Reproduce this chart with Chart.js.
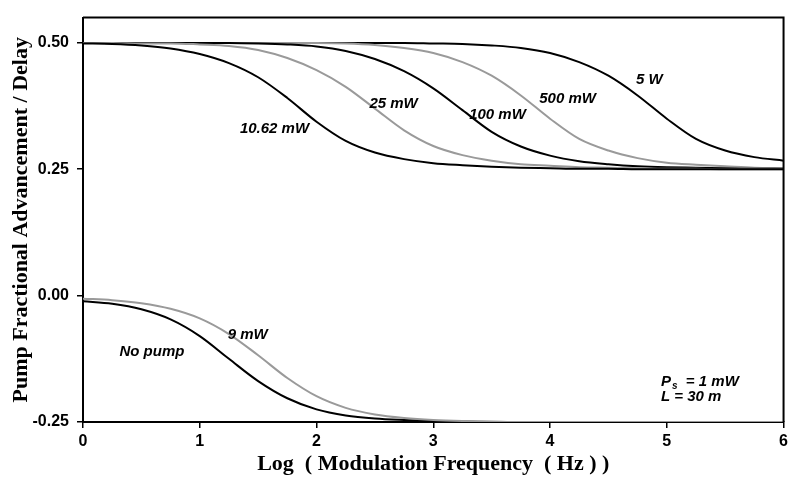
<!DOCTYPE html>
<html>
<head>
<meta charset="utf-8">
<script src="https://cdn.jsdelivr.net/npm/chart.js@4/dist/chart.umd.min.js"></script>
<style>
  html, body { margin: 0; padding: 0; background: #fff; }
  #wrap { width: 792px; height: 482px; }
</style>
</head>
<body>
<div id="wrap"><canvas id="pumpChart"></canvas></div>
<script>
// Log10 of modulation frequency (Hz)
const logFreq = [0, 0.25, 0.5, 0.75, 1, 1.25, 1.5, 1.75, 2, 2.25, 2.5, 2.75, 3,
                 3.25, 3.5, 3.75, 4, 4.25, 4.5, 4.75, 5, 5.25, 5.5, 5.75, 6];

// Pump fractional advancement / delay
const pump10mW = [0.499, 0.498, 0.495, 0.489, 0.478, 0.460, 0.432, 0.391, 0.344, 0.306, 0.283, 0.270, 0.262,
                  0.258, 0.255, 0.253, 0.252, 0.251, 0.251, 0.250, 0.250, 0.250, 0.250, 0.250, 0.250];
const pump25mW = [0.500, 0.500, 0.499, 0.499, 0.497, 0.494, 0.486, 0.470, 0.446, 0.413, 0.370, 0.327, 0.296,
                  0.278, 0.267, 0.260, 0.257, 0.254, 0.253, 0.252, 0.251, 0.251, 0.250, 0.250, 0.250];
const pump100mW = [0.500, 0.500, 0.500, 0.500, 0.500, 0.500, 0.499, 0.497, 0.493, 0.484, 0.468, 0.444, 0.410,
                   0.367, 0.324, 0.295, 0.277, 0.266, 0.260, 0.256, 0.254, 0.253, 0.252, 0.251, 0.251];
const pump500mW = [0.500, 0.500, 0.500, 0.500, 0.500, 0.500, 0.500, 0.500, 0.500, 0.499, 0.496, 0.490, 0.480,
                   0.462, 0.435, 0.396, 0.350, 0.310, 0.287, 0.272, 0.263, 0.259, 0.256, 0.253, 0.252];
const pump5W = [0.500, 0.500, 0.500, 0.500, 0.500, 0.500, 0.500, 0.500, 0.500, 0.500, 0.500, 0.500, 0.499,
                0.498, 0.495, 0.490, 0.480, 0.462, 0.435, 0.396, 0.350, 0.310, 0.287, 0.274, 0.267];
const noPump = [-0.011, -0.016, -0.027, -0.047, -0.080, -0.125, -0.169, -0.203, -0.225, -0.237, -0.243, -0.246, -0.248,
                -0.249, -0.250, -0.250, -0.250, -0.250, -0.250, -0.250, -0.250, -0.250, -0.250, -0.250, -0.250];
const pump9mW = [-0.006, -0.009, -0.015, -0.026, -0.045, -0.076, -0.118, -0.163, -0.199, -0.222, -0.235, -0.242, -0.246,
                 -0.248, -0.249, -0.250, -0.250, -0.250, -0.250, -0.250, -0.250, -0.250, -0.250, -0.250, -0.250];

const yTicks = [-0.25, 0, 0.25, 0.5];
const xTicks = [0, 1, 2, 3, 4, 5, 6];

// Curve labels, placed in data units
const curveLabels = [
  { text: '10.62 mW', x: 1.64, y: 0.330 },
  { text: '25 mW', x: 2.66, y: 0.379 },
  { text: '100 mW', x: 3.55, y: 0.357 },
  { text: '500 mW', x: 4.15, y: 0.389 },
  { text: '5 W', x: 4.85, y: 0.426 },
  { text: '9 mW', x: 1.41, y: -0.077 },
  { text: 'No pump', x: 0.59, y: -0.111 }
];

const BLACK = '#000000';
const GRAY = '#9a9a9a';

function toPoints(vals) {
  return logFreq.map((x, i) => ({ x: x, y: vals[i] }));
}

function curve(label, vals, color) {
  return {
    label: label,
    data: toPoints(vals),
    borderColor: color,
    borderWidth: 2,
    pointRadius: 0,
    fill: false,
    cubicInterpolationMode: 'monotone'
  };
}

// Draws the top/right frame and the text annotations
const annotatePlugin = {
  id: 'annotate',
  afterDatasetsDraw(chart) {
    const ctx = chart.ctx;
    const a = chart.chartArea;
    const xs = chart.scales.x;
    const ys = chart.scales.y;

    ctx.save();
    ctx.strokeStyle = BLACK;
    ctx.lineWidth = 2;
    ctx.beginPath();
    ctx.moveTo(a.left, a.top);
    ctx.lineTo(a.right, a.top);
    ctx.lineTo(a.right, a.bottom);
    ctx.stroke();

    ctx.fillStyle = BLACK;
    ctx.font = 'italic bold 15px "Liberation Sans", Arial, sans-serif';
    ctx.textAlign = 'center';
    ctx.textBaseline = 'middle';
    curveLabels.forEach(l => {
      ctx.fillText(l.text, xs.getPixelForValue(l.x), ys.getPixelForValue(l.y));
    });

    // P_s = 1 mW and L = 30 m
    ctx.textAlign = 'left';
    let px = xs.getPixelForValue(4.95);
    let py = ys.getPixelForValue(-0.170);
    ctx.fillText('P', px, py);
    px += ctx.measureText('P').width;
    ctx.font = 'italic bold 10px "Liberation Sans", Arial, sans-serif';
    ctx.fillText('s', px + 1, py + 5);
    px += ctx.measureText('s').width + 1;
    ctx.font = 'italic bold 15px "Liberation Sans", Arial, sans-serif';
    ctx.fillText('  = 1 mW', px, py);
    ctx.fillText('L = 30 m', xs.getPixelForValue(4.95), ys.getPixelForValue(-0.200));
    ctx.restore();
  }
};

const ctx = document.getElementById('pumpChart').getContext('2d');
const pumpChart = new Chart(ctx, {
  type: 'line',
  data: {
    datasets: [
      curve('10.62 mW', pump10mW, BLACK),
      curve('25 mW', pump25mW, GRAY),
      curve('100 mW', pump100mW, BLACK),
      curve('500 mW', pump500mW, GRAY),
      curve('5 W', pump5W, BLACK),
      curve('9 mW', pump9mW, GRAY),
      curve('No pump', noPump, BLACK)
    ]
  },
  options: {
    responsive: true,
    maintainAspectRatio: false,
    animation: false,
    layout: { padding: { top: 14, right: 1, left: 0, bottom: 0 } },
    plugins: {
      legend: { display: false },
      tooltip: { enabled: false }
    },
    scales: {
      x: {
        type: 'linear',
        min: 0,
        max: 6,
        afterBuildTicks: s => { s.ticks = xTicks.map(v => ({ value: v })); },
        afterFit: s => { s.height = 60; },
        ticks: {
          color: BLACK,
          padding: 4,
          font: { family: '"Liberation Sans", Arial, sans-serif', size: 16, weight: 'bold' }
        },
        grid: { drawOnChartArea: false, drawTicks: true, tickLength: 6, color: BLACK, lineWidth: 1.5 },
        border: { color: BLACK, width: 2 },
        title: {
          display: true,
          text: 'Log  ( Modulation Frequency  ( Hz ) )',
          color: BLACK,
          padding: { top: 0 },
          font: { family: '"Liberation Serif", "Times New Roman", serif', size: 22, weight: 'bold' }
        }
      },
      y: {
        type: 'linear',
        min: -0.25,
        max: 0.55,
        afterBuildTicks: s => { s.ticks = yTicks.map(v => ({ value: v })); },
        afterFit: s => { s.width = 83; },
        ticks: {
          color: BLACK,
          padding: 8,
          callback: v => v.toFixed(2),
          font: { family: '"Liberation Sans", Arial, sans-serif', size: 16, weight: 'bold' }
        },
        grid: { drawOnChartArea: false, drawTicks: true, tickLength: 6, color: BLACK, lineWidth: 1.5 },
        border: { color: BLACK, width: 2 },
        title: {
          display: true,
          text: 'Pump Fractional Advancement / Delay',
          color: BLACK,
          padding: { top: 8, bottom: 0 },
          font: { family: '"Liberation Serif", "Times New Roman", serif', size: 22, weight: 'bold' }
        }
      }
    }
  },
  plugins: [annotatePlugin]
});
</script>
</body>
</html>
